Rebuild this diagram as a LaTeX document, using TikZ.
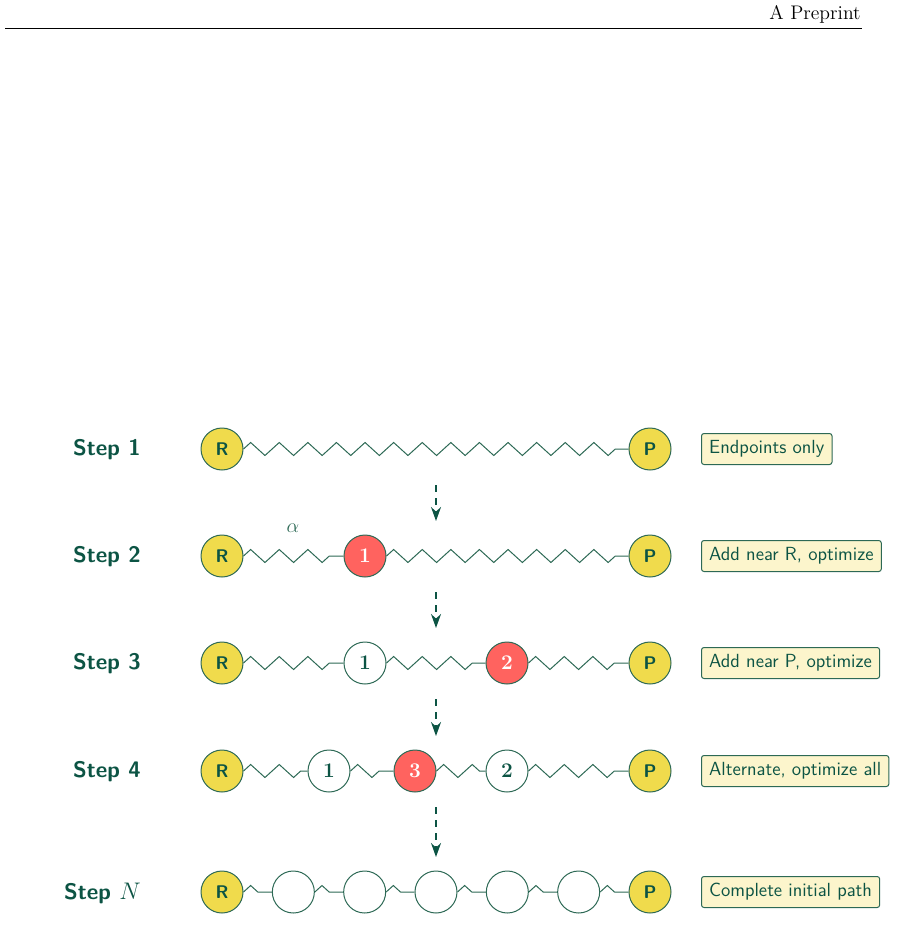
\documentclass[tikz,border=0pt]{standalone}
\usetikzlibrary{arrows.meta,positioning,calc,decorations.pathmorphing}

\definecolor{deepGreen}{RGB}{12,84,68}
\definecolor{lineGreen}{RGB}{45,105,85}
\definecolor{endYellow}{RGB}{240,219,76}
\definecolor{newRed}{RGB}{255,99,95}
\definecolor{noteFill}{RGB}{252,245,204}

\begin{document}
\begin{tikzpicture}[
        x=0.6pt, y=-0.6pt,
        endNode/.style={
            circle,
            draw=lineGreen,
            fill=endYellow,
            line width=0.6pt,
            minimum size=25.2pt,
            inner sep=0pt,
            text=deepGreen,
            font=\fontsize{11}{13}\selectfont\sffamily\bfseries
        },
        imageNode/.style={
            circle,
            draw=lineGreen,
            fill=white,
            line width=0.6pt,
            minimum size=25.2pt,
            inner sep=0pt,
            text=deepGreen,
            font=\fontsize{12.5}{14}\selectfont\bfseries
        },
        newNode/.style={
            imageNode,
            fill=newRed,
            text=white
        },
        stepLabel/.style={
            anchor=east,
            inner sep=0pt,
            text=deepGreen,
            font=\fontsize{13.5}{16}\selectfont\sffamily\bfseries
        },
        noteBox/.style={
            anchor=west,
            draw=lineGreen,
            fill=noteFill,
            rounded corners=1.5pt,
            line width=0.6pt,
            minimum height=18.6pt,
            inner xsep=4.6pt,
            text=deepGreen,
            font=\fontsize{11.4}{13}\selectfont\sffamily
        },
        spring/.style={
            draw=lineGreen,
            line width=0.6pt,
            decorate,
            decoration={zigzag, segment length=17.16pt, amplitude=3.9pt, post length=1.8pt}
        },
        flow/.style={
            -{Stealth[length=8.4pt, width=6pt]},
            line width=0.9pt,
            draw=deepGreen,
            dash pattern=on 4.2pt off 3.6pt,
            shorten <=21.6pt,
            shorten >=21pt
        }
    ]

        \useasboundingbox (0,0) rectangle (897,943);

        % Page header
        \node[anchor=base east, inner sep=0pt, font=\fontsize{11.8}{14}\selectfont] (header) at (861,20) {A Preprint};
        \draw[line width=0.5pt] (5,28) -- (862,28);

        % Step 1
        \node[stepLabel] (s1) at (141,450) {Step 1};
        \node[endNode] (R1) at (222,449) {R};
        \node[endNode] (P1) at (650,449) {P};
        \node[noteBox] (note1) at (701,449) {Endpoints only};
        \draw[spring] (R1) -- (P1);

        % Step 2
        \node[stepLabel] (s2) at (141,557) {Step 2};
        \node[endNode] (R2) at (222,556) {R};
        \node[newNode] (n21) at (365,556) {1};
        \node[endNode] (P2) at (650,556) {P};
        \node[noteBox] (note2) at (701,556) {Add near R, optimize};
        \draw[spring] (R2) -- (n21);
        \draw[spring] (n21) -- (P2);
        \node[text=lineGreen, font=\fontsize{11.5}{13}\selectfont] (alpha) at (293,528) {$\alpha$};

        % Step 3
        \node[stepLabel] (s3) at (141,664) {Step 3};
        \node[endNode] (R3) at (222,663) {R};
        \node[imageNode] (n31) at (365,663) {1};
        \node[newNode] (n32) at (507,663) {2};
        \node[endNode] (P3) at (650,663) {P};
        \node[noteBox] (note3) at (701,663) {Add near P, optimize};
        \draw[spring] (R3) -- (n31);
        \draw[spring] (n31) -- (n32);
        \draw[spring] (n32) -- (P3);

        % Step 4
        \node[stepLabel] (s4) at (141,772) {Step 4};
        \node[endNode] (R4) at (222,771) {R};
        \node[imageNode] (n41) at (329,771) {1};
        \node[newNode] (n43) at (415,771) {3};
        \node[imageNode] (n42) at (507,771) {2};
        \node[endNode] (P4) at (650,771) {P};
        \node[noteBox] (note4) at (701,771) {Alternate, optimize all};
        \draw[spring] (R4) -- (n41);
        \draw[spring] (n41) -- (n43);
        \draw[spring] (n43) -- (n42);
        \draw[spring] (n42) -- (P4);

        % Step N
        \node[stepLabel] (sN) at (141,893) {Step $N$};
        \node[endNode] (RN) at (222,892) {R};
        \node[endNode] (PN) at (650,892) {P};
        \node[noteBox] (noteN) at (701,892) {Complete initial path};
        \foreach \k in {1,...,5}
        {
            \node[imageNode] (nN\k) at (222+71.33*\k,892) {};
        }
        \draw[spring] (RN) -- (nN1);
        \foreach \k [remember=\k as \prev (initially 1)] in {2,...,5}
        {
            \draw[spring] (nN\prev) -- (nN\k);
        }
        \draw[spring] (nN5) -- (PN);

        % Progress arrows
        \coordinate (g1) at (436,449);
        \coordinate (g2) at (436,556);
        \coordinate (g3) at (436,663);
        \coordinate (g4) at (436,771);
        \coordinate (gN) at (436,892);
        \draw[flow] (g1) -- (g2);
        \draw[flow] (g2) -- (g3);
        \draw[flow] (g3) -- (g4);
        \draw[flow] (g4) -- (gN);

    \end{tikzpicture}
\end{document}
